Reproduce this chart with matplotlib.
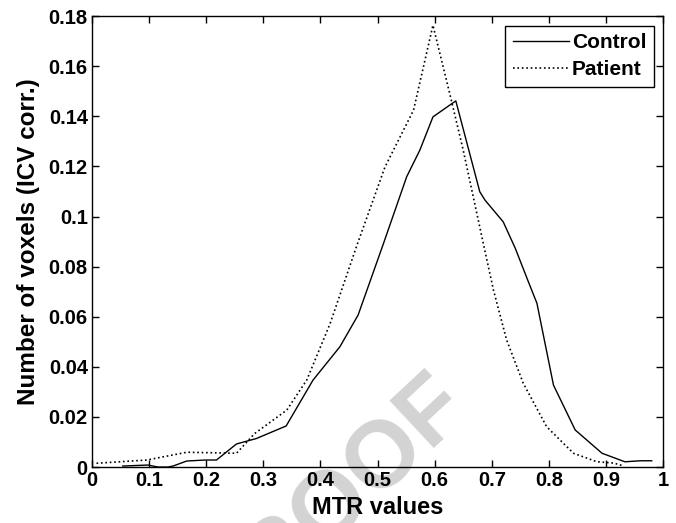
import numpy as np
import matplotlib
matplotlib.use("Agg")
import matplotlib.pyplot as plt

plt.rcParams['font.family'] = ['Liberation Sans', 'DejaVu Sans']
plt.rcParams['font.weight'] = 'bold'

# values
control_x = [0.054, 0.098, 0.116, 0.133, 0.142, 0.166, 0.198, 0.218, 0.253, 0.288,
             0.340, 0.387, 0.434, 0.466, 0.510, 0.551, 0.574, 0.597, 0.637, 0.679,
             0.688, 0.720, 0.741, 0.764, 0.779, 0.808, 0.846, 0.893, 0.933, 0.960, 0.980]
control_y = [0.0004, 0.0008, 0.0000, 0.0000, 0.0004, 0.0024, 0.0028, 0.0028, 0.0092, 0.0114,
             0.0164, 0.0347, 0.0480, 0.0607, 0.0890, 0.1159, 0.1265, 0.1398, 0.1462, 0.1099,
             0.1066, 0.0979, 0.0874, 0.0740, 0.0654, 0.0327, 0.0148, 0.0055, 0.0021, 0.0025, 0.0025]

patient_x = [0.008, 0.096, 0.166, 0.210, 0.253, 0.285, 0.341, 0.376, 0.417, 0.464,
             0.513, 0.563, 0.597, 0.627, 0.650, 0.685, 0.703, 0.726, 0.755, 0.796,
             0.843, 0.884, 0.913, 0.930]
patient_y = [0.0015, 0.0028, 0.0059, 0.0057, 0.0055, 0.0134, 0.0227, 0.0347, 0.0573, 0.0886,
             0.1198, 0.1425, 0.1764, 0.1485, 0.1265, 0.0894, 0.0706, 0.0507, 0.0335, 0.0161,
             0.0055, 0.0021, 0.0016, 0.0005]

x_ticks = [0, 0.1, 0.2, 0.3, 0.4, 0.5, 0.6, 0.7, 0.8, 0.9, 1]
x_labels = ['0', '0.1', '0.2', '0.3', '0.4', '0.5', '0.6', '0.7', '0.8', '0.9', '1']
y_ticks = [0, 0.02, 0.04, 0.06, 0.08, 0.1, 0.12, 0.14, 0.16, 0.18]
y_labels = ['0', '0.02', '0.04', '0.06', '0.08', '0.1', '0.12', '0.14', '0.16', '0.18']

fig = plt.figure(figsize=(6.76, 5.23), dpi=100)
ax = fig.add_axes([0.136, 0.107, 0.845, 0.862])

# faint proof watermark, mostly below the figure
fig.text(0.49, 0.035, 'PROOF', fontsize=68, color='#d3d3d3', rotation=43,
         ha='center', va='center', fontweight='bold', zorder=-1)

ax.plot(control_x, control_y, '-', color='black', lw=1.0, label='Control', zorder=3)
ax.plot(patient_x, patient_y, ':', color='black', lw=1.2, label='Patient', zorder=3)
ax.patch.set_alpha(0)

ax.set_xlim(0, 1)
ax.set_ylim(0, 0.18)
ax.set_xticks(x_ticks)
ax.set_xticklabels(x_labels)
ax.set_yticks(y_ticks)
ax.set_yticklabels(y_labels)
ax.tick_params(direction='in', length=5, width=1, top=True, right=True,
               labelsize=14.5, pad=3)
for s in ax.spines.values():
    s.set_linewidth(1)

ax.set_xlabel('MTR values', fontsize=17, fontweight='bold', labelpad=4)
ax.set_ylabel('Number of voxels (ICV corr.)', fontsize=17.5, fontweight='bold', labelpad=6)

leg = ax.legend(loc='upper right', fontsize=15, fancybox=False, framealpha=1,
                edgecolor='black', handlelength=2.7, borderaxespad=0.45,
                handletextpad=0.15, borderpad=0.35, labelspacing=0.4)
leg.get_frame().set_linewidth(1)

fig.savefig('out.png', dpi=100)
